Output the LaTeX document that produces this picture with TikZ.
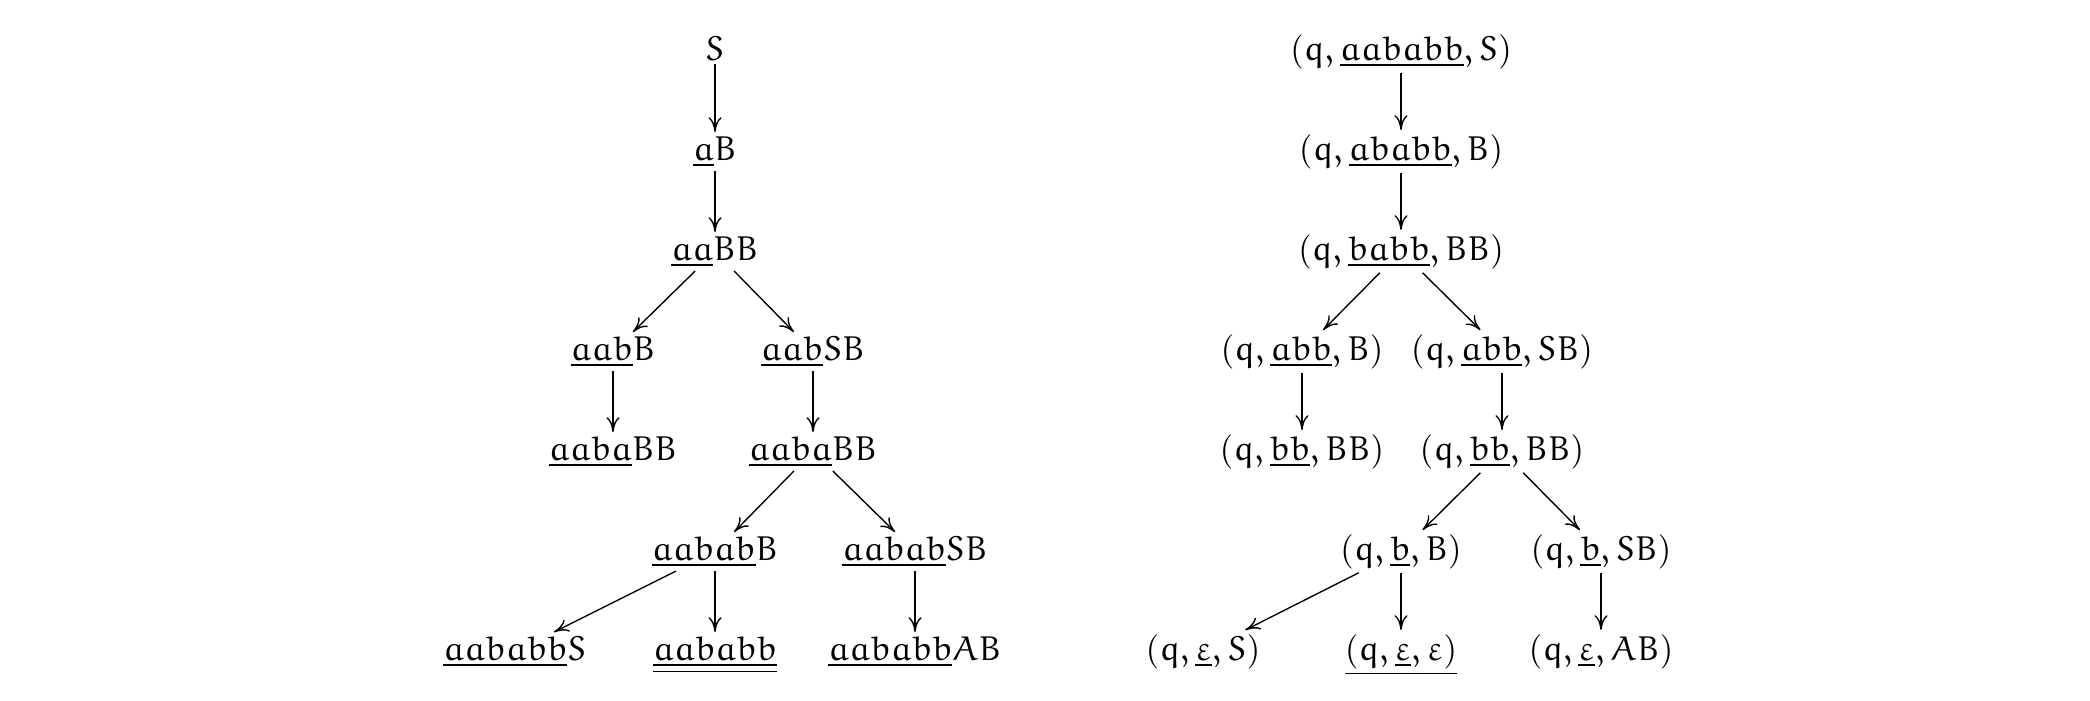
\documentclass[tikz,border=0pt]{standalone}
\usetikzlibrary{arrows.meta}
\DeclareSymbolFont{letters}{U}{eur}{m}{n}
\begin{document}
\begin{tikzpicture}[x=0.29pt,y=-0.29pt,
  nd/.style={anchor=base,inner sep=1pt},
  arr/.style={-{Computer Modern Rightarrow[length=4.3pt,width=3.8pt]},line width=0.4pt}]
\useasboundingbox (0,0) rectangle (2090,700);
% left tree
\node[nd] (L1) at (715,60) {$S$};
\node[nd] (L2) at (715,160) {$\underline{a}B$};
\node[nd] (L3) at (715,260) {$\underline{aa}BB$};
\node[nd] (L4a) at (613,360) {$\underline{aab}B$};
\node[nd] (L4b) at (813,360) {$\underline{aab}SB$};
\node[nd] (L5a) at (613,460) {$\underline{aaba}BB$};
\node[nd] (L5b) at (813,460) {$\underline{aaba}BB$};
\node[nd] (L6a) at (715,560) {$\underline{aabab}B$};
\node[nd] (L6b) at (915,560) {$\underline{aabab}SB$};
\node[nd] (L7a) at (515,660) {$\underline{aababb}S$};
\node[nd] (L7b) at (715,660) {$\underline{\underline{aababb}}$};
\node[nd] (L7c) at (915,660) {$\underline{aababb}AB$};
\draw[arr] (L1) -- (L2);
\draw[arr] (L2) -- (L3);
\draw[arr] (L3) -- (L4a);
\draw[arr] (L3) -- (L4b);
\draw[arr] (L4a) -- (L5a);
\draw[arr] (L4b) -- (L5b);
\draw[arr] (L5b) -- (L6a);
\draw[arr] (L5b) -- (L6b);
\draw[arr] (L6a) -- (L7a);
\draw[arr] (L6a) -- (L7b);
\draw[arr] (L6b) -- (L7c);
% right tree
\node[nd] (R1) at (1401,60) {$(q,\underline{aababb},S)$};
\node[nd] (R2) at (1401,160) {$(q,\underline{ababb},B)$};
\node[nd] (R3) at (1401,260) {$(q,\underline{babb},BB)$};
\node[nd] (R4a) at (1302,360) {$(q,\underline{abb},B)$};
\node[nd] (R4b) at (1502,360) {$(q,\underline{abb},SB)$};
\node[nd] (R5a) at (1302,460) {$(q,\underline{bb},BB)$};
\node[nd] (R5b) at (1502,460) {$(q,\underline{bb},BB)$};
\node[nd] (R6a) at (1401,560) {$(q,\underline{b},B)$};
\node[nd] (R6b) at (1601,560) {$(q,\underline{b},SB)$};
\node[nd] (R7a) at (1203,660) {$(q,\underline{\varepsilon},S)$};
\node[nd] (R7b) at (1401,660) {$\underline{(q,\underline{\varepsilon},\varepsilon)}$};
\node[nd] (R7c) at (1601,660) {$(q,\underline{\varepsilon},AB)$};
\draw[arr] (R1) -- (R2);
\draw[arr] (R2) -- (R3);
\draw[arr] (R3) -- (R4a);
\draw[arr] (R3) -- (R4b);
\draw[arr] (R4a) -- (R5a);
\draw[arr] (R4b) -- (R5b);
\draw[arr] (R5b) -- (R6a);
\draw[arr] (R5b) -- (R6b);
\draw[arr] (R6a) -- (R7a);
\draw[arr] (R6a) -- (R7b);
\draw[arr] (R6b) -- (R7c);
\end{tikzpicture}
\end{document}
